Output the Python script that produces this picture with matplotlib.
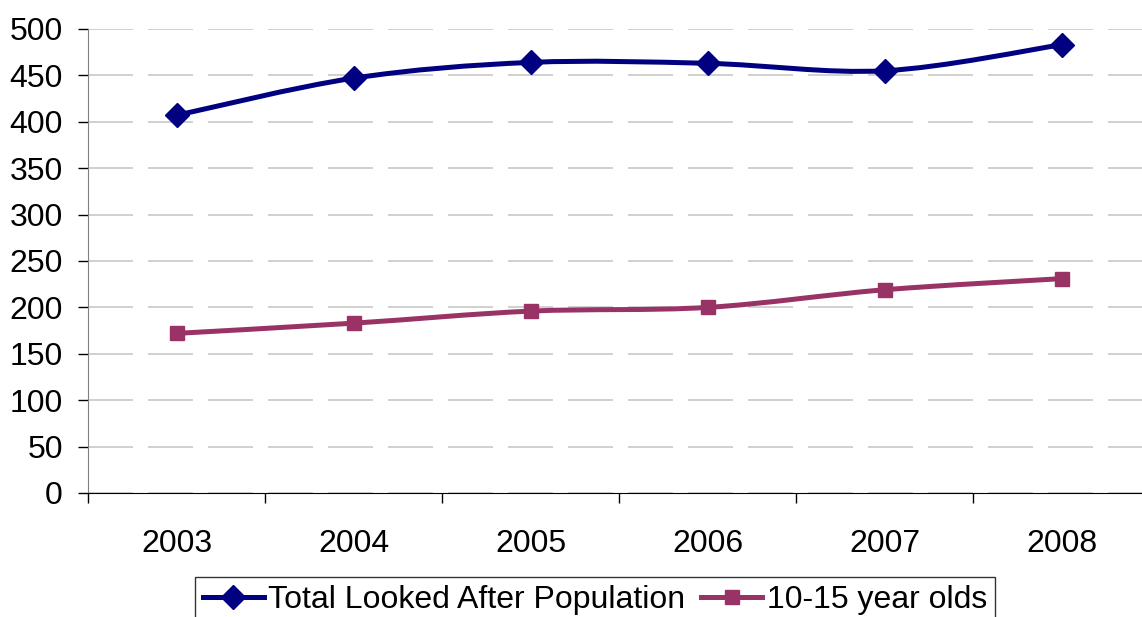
import matplotlib
matplotlib.use("Agg")
import matplotlib.pyplot as plt
from matplotlib.path import Path
from matplotlib.patches import PathPatch
import numpy as np

years = ["2003", "2004", "2005", "2006", "2007", "2008"]
total_looked_after = [407, 447, 464, 463, 455, 483]
age_10_15 = [172, 183, 196, 200, 219, 231]

plt.rcParams["font.family"] = ["Liberation Sans", "DejaVu Sans"]

fig = plt.figure(figsize=(11.42, 6.17), dpi=100)
ax = fig.add_axes([88 / 1142, 1 - 493 / 617, 1062 / 1142, 464 / 617])


def smooth_path(xs, ys):
    # Excel-style smoothed line: cubic bezier through each point
    pts = np.column_stack([xs, ys]).astype(float)
    verts = [pts[0]]
    codes = [Path.MOVETO]
    n = len(pts)
    for i in range(n - 1):
        p0 = pts[i - 1] if i > 0 else pts[i]
        p1 = pts[i]
        p2 = pts[i + 1]
        p3 = pts[i + 2] if i + 2 < n else pts[i + 1]
        c1 = p1 + (p2 - p0) / 6.0
        c2 = p2 - (p3 - p1) / 6.0
        verts += [c1, c2, p2]
        codes += [Path.CURVE4] * 3
    return Path(verts, codes)


x = np.arange(len(years))
series = [
    (total_looked_after, "#000080", "D", 12, "Total Looked After Population"),
    (age_10_15, "#993366", "s", 10, "10-15 year olds"),
]
for vals, col, mk, ms, lab in series:
    ax.add_patch(PathPatch(smooth_path(x, vals), facecolor="none",
                           edgecolor=col, lw=3.6, zorder=3))
    ax.plot(x, vals, linestyle="none", marker=mk, ms=ms, color=col, zorder=4)
    ax.plot([], [], color=col, lw=3.6, marker=mk, ms=ms, label=lab)

ax.set_xlim(-0.5, 5.5)
ax.set_ylim(0, 500)
ax.set_yticks(range(0, 501, 50))
ax.yaxis.grid(True, color="#c8c8c8", lw=1.2, linestyle=(0, (27, 9)))
ax.set_axisbelow(True)

ax.set_xticks(x)
ax.set_xticklabels(years)
ax.set_xticks(np.arange(-0.5, 5.6, 1), minor=True)
ax.tick_params(axis="x", which="major", length=0, pad=26, labelsize=23)
ax.tick_params(axis="x", which="minor", length=7, width=1, color="#000000")
ax.tick_params(axis="y", length=7, width=1, color="#000000", pad=11, labelsize=23)

for s in ["top", "right"]:
    ax.spines[s].set_visible(False)
ax.spines["left"].set_color("#808080")
ax.spines["bottom"].set_color("#000000")

leg = fig.legend(loc="upper center", bbox_to_anchor=(0.521, 1 - 577 / 617),
                 ncol=2, fontsize=23, frameon=True, fancybox=False,
                 edgecolor="#000000", handlelength=1.9, handletextpad=0.15,
                 columnspacing=0.5, borderpad=0.25, borderaxespad=0)
leg.get_frame().set_linewidth(1)

fig.savefig("out.png", dpi=100)
